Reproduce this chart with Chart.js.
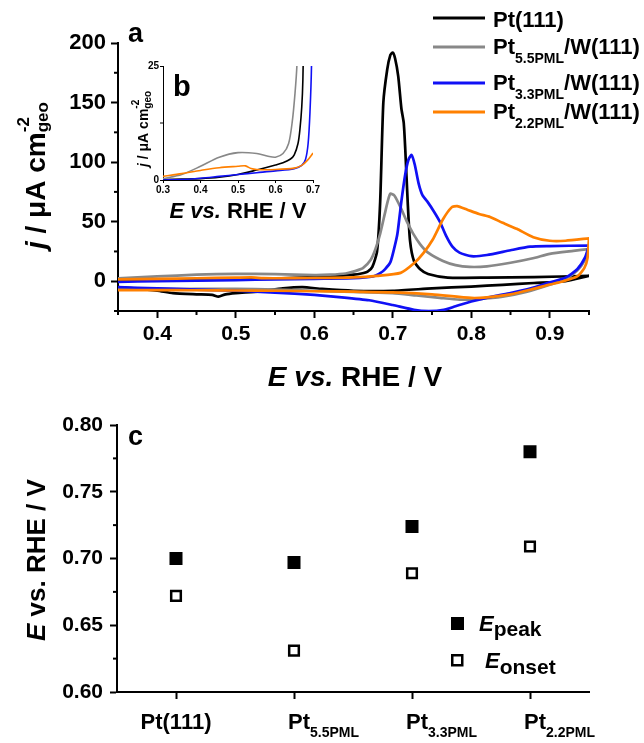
<!DOCTYPE html>
<html>
<head>
<meta charset="utf-8">
<script src="https://cdn.jsdelivr.net/npm/chart.js@4.4.1/dist/chart.umd.min.js"></script>
<style>
  html, body { margin: 0; padding: 0; background: #fff; }
  #wrap { position: relative; width: 644px; height: 743px; }
  canvas { position: absolute; }
</style>
</head>
<body>
<div id="wrap">
  <canvas id="cv" width="644" height="400" style="left:0;top:0;width:644px;height:400px"></canvas>
  <canvas id="inset" width="215" height="175" style="left:120px;top:55px;width:215px;height:175px"></canvas>
  <canvas id="shift" width="644" height="343" style="left:0;top:400px;width:644px;height:343px"></canvas>
</div>
<script>
const FAMILY = '"Liberation Sans", Arial, sans-serif';
const font = (size, style) => (style ? style + ' ' : '') + 'bold ' + size + 'px ' + FAMILY;

// ---- panel a: CVs (E vs RHE / V, j / uA cm-2), anodic sweep then cathodic sweep
const pt111AnodicE = [0.35, 0.40, 0.45, 0.50, 0.55, 0.60, 0.63, 0.65, 0.66, 0.668, 0.674, 0.68, 0.684, 0.688, 0.693, 0.697, 0.700, 0.703, 0.707, 0.711, 0.714, 0.716, 0.719, 0.722, 0.727, 0.735, 0.745, 0.77, 0.82, 0.88, 0.95];
const pt111AnodicJ = [0.5, 0.8, 1.2, 1.6, 2.2, 3.5, 4.5, 5.5, 6.5, 8, 12, 25, 67, 150, 178, 190, 192, 187, 172, 145, 133, 110, 67, 34, 17, 10, 6, 3, 3, 3.5, 4.5];
const pt111CathodicE = [0.95, 0.92, 0.88, 0.84, 0.80, 0.75, 0.70, 0.65, 0.61, 0.585, 0.56, 0.53, 0.50, 0.487, 0.478, 0.47, 0.45, 0.42, 0.40, 0.37, 0.35];
const pt111CathodicJ = [4.5, 0, -1.5, -3, -4.5, -6, -8, -8, -6.5, -5, -6, -8.5, -10, -11, -13, -11.5, -11, -10, -8, -6, -5];

const pt55AnodicE = [0.35, 0.40, 0.45, 0.50, 0.55, 0.60, 0.62, 0.64, 0.652, 0.662, 0.672, 0.678, 0.684, 0.69, 0.694, 0.697, 0.702, 0.71, 0.718, 0.726, 0.735, 0.745, 0.764, 0.78, 0.798, 0.82, 0.85, 0.88, 0.90, 0.93, 0.95];
const pt55AnodicJ = [2.5, 4, 5.5, 6.2, 6, 5.2, 5.5, 6.5, 8.5, 11, 18, 27, 40, 57, 68, 73.5, 72, 62, 50, 40, 31, 24, 17, 13.5, 12, 12.5, 15.5, 19.5, 23, 25.5, 27];
const pt55CathodicE = [0.95, 0.945, 0.935, 0.92, 0.90, 0.87, 0.84, 0.81, 0.785, 0.76, 0.73, 0.70, 0.65, 0.60, 0.55, 0.50, 0.45, 0.40, 0.35];
const pt55CathodicJ = [27, 18, 9, 2, -3, -9, -13, -15, -15.5, -14, -12, -10, -9, -8, -7, -6.5, -6.5, -6.5, -6];

const pt33AnodicE = [0.35, 0.40, 0.45, 0.50, 0.55, 0.60, 0.65, 0.675, 0.684, 0.69, 0.697, 0.702, 0.706, 0.711, 0.716, 0.72, 0.724, 0.728, 0.733, 0.738, 0.745, 0.752, 0.76, 0.768, 0.776, 0.785, 0.80, 0.82, 0.85, 0.875, 0.90, 0.95];
const pt33AnodicJ = [-0.5, 0, 0.5, 1, 1.5, 2, 2.5, 4, 6.8, 10, 16, 28, 40, 67, 90, 102, 106, 98, 82, 72, 66, 59, 50, 38, 29, 24, 21, 22, 26, 29, 29.5, 30];
const pt33CathodicE = [0.95, 0.945, 0.935, 0.92, 0.90, 0.876, 0.85, 0.83, 0.80, 0.78, 0.765, 0.746, 0.727, 0.70, 0.67, 0.635, 0.60, 0.55, 0.50, 0.45, 0.40, 0.35];
const pt33CathodicJ = [30, 20, 10, 3, -1, -6, -10, -12.5, -17, -21, -24, -25, -24, -20, -16, -13.5, -11.5, -9.5, -8, -7, -6, -5];

const pt22AnodicE = [0.35, 0.40, 0.45, 0.50, 0.52, 0.535, 0.55, 0.60, 0.65, 0.68, 0.71, 0.727, 0.739, 0.751, 0.764, 0.775, 0.782, 0.795, 0.81, 0.824, 0.84, 0.858, 0.879, 0.90, 0.92, 0.95];
const pt22AnodicJ = [1.5, 2, 2.5, 3, 3.2, 2.6, 2.5, 2.7, 3.2, 4.5, 7, 15, 23.6, 35, 52, 62, 63, 60, 56.5, 54, 49, 44, 37, 34, 34, 36];
const pt22CathodicE = [0.95, 0.948, 0.944, 0.935, 0.915, 0.90, 0.876, 0.85, 0.82, 0.80, 0.75, 0.70, 0.65, 0.60, 0.55, 0.50, 0.45, 0.40, 0.35];
const pt22CathodicJ = [36, 19, 11, 4, -0.5, -2.8, -7, -11, -13.5, -14, -11, -9.3, -8.8, -8.4, -8, -7.8, -7.6, -7.5, -7.5];

const xTicksA = [0.4, 0.5, 0.6, 0.7, 0.8, 0.9];
const xMinorA = [0.35, 0.45, 0.55, 0.65, 0.75, 0.85, 0.95];
const yTicksA = [0, 50, 100, 150, 200];
const yMinorA = [-25, 25, 75, 125, 175];

// ---- panel b: onset region of the anodic sweeps
const insetPt111E = [0.30, 0.35, 0.40, 0.45, 0.50, 0.55, 0.60, 0.62, 0.64, 0.65, 0.66, 0.665, 0.67, 0.673, 0.677];
const insetPt111J = [0.1, 0.2, 0.3, 0.6, 1.2, 2.2, 3.3, 3.8, 4.6, 5.5, 8, 11, 16, 22, 40];
const insetPt55E = [0.30, 0.35, 0.40, 0.45, 0.50, 0.55, 0.58, 0.60, 0.62, 0.635, 0.645, 0.652, 0.657, 0.66];
const insetPt55J = [0.3, 1.2, 3.0, 5.0, 6.0, 5.8, 5.2, 5.0, 5.8, 8, 13, 19, 25, 35];
const insetPt33E = [0.30, 0.35, 0.40, 0.45, 0.50, 0.55, 0.60, 0.65, 0.67, 0.68, 0.687, 0.692, 0.696, 0.698];
const insetPt33J = [0, 0.1, 0.4, 0.8, 1.2, 1.6, 2.0, 2.5, 3.2, 4.5, 8, 15, 25, 40];
const insetPt22E = [0.30, 0.35, 0.40, 0.45, 0.50, 0.52, 0.535, 0.55, 0.60, 0.65, 0.67, 0.685, 0.70];
const insetPt22J = [0.8, 1.4, 2.1, 2.7, 3.0, 3.1, 2.5, 2.3, 2.3, 2.6, 3.2, 4.3, 5.9];
const xTicksB = [0.3, 0.4, 0.5, 0.6, 0.7];
const yTicksB = [0, 25];
const yMinorB = [12.5];

// ---- panel c: peak and onset potentials
const samples = ['Pt(111)', 'Pt5.5PML', 'Pt3.3PML', 'Pt2.2PML'];
const sampleBase = ['Pt(111)', 'Pt', 'Pt', 'Pt'];
const sampleSub = ['', '5.5PML', '3.3PML', '2.2PML'];
const ePeak = [0.700, 0.697, 0.724, 0.780];
const eOnset = [0.672, 0.631, 0.689, 0.709];
const yTicksC = [0.60, 0.65, 0.70, 0.75, 0.80];
const yMinorC = [0.625, 0.675, 0.725, 0.775];

const legendSub = ['', '5.5PML', '3.3PML', '2.2PML'];
const colors = ['#000000', '#888888', '#1010f5', '#ff8000'];

const zip = (xs, ys) => xs.map((x, i) => ({ x: x, y: ys[i] }));

// text runs with sub/superscripts; a part with stack:true does not advance
function drawRun(ctx, x, y, parts, measureOnly) {
  let cx = x;
  parts.forEach(p => {
    ctx.font = p.f;
    if (!measureOnly) ctx.fillText(p.t, cx, y + (p.dy || 0));
    const pw = ctx.measureText(p.t).width;
    if (!p.stack) cx += pw;
  });
  return cx - x;
}
function drawRunCentered(ctx, x, y, parts) {
  const w = drawRun(ctx, 0, 0, parts, true);
  drawRun(ctx, x - w / 2, y, parts);
}
function drawRotated(ctx, x, y, parts) {
  ctx.save();
  ctx.translate(x, y);
  ctx.rotate(-Math.PI / 2);
  drawRun(ctx, 0, 0, parts);
  ctx.restore();
}
function minorTicks(chart, axis, values, len, width) {
  const ctx = chart.ctx;
  const s = chart.scales[axis];
  const area = chart.chartArea;
  ctx.save();
  ctx.strokeStyle = '#000';
  ctx.lineWidth = width;
  values.forEach(v => {
    const p = s.getPixelForValue(v);
    ctx.beginPath();
    if (axis === 'x') {
      ctx.moveTo(p, area.bottom);
      ctx.lineTo(p, area.bottom + len);
    } else {
      ctx.moveTo(area.left - len, p);
      ctx.lineTo(area.left, p);
    }
    ctx.stroke();
  });
  ctx.restore();
}

function axisOpts(size, tickLen, tickW, pad, cb) {
  return {
    ticks: { callback: cb, font: { family: FAMILY, size: size, weight: 'bold' }, color: '#000', padding: pad, maxRotation: 0, autoSkip: false },
    grid: { drawOnChartArea: false, tickLength: tickLen, tickWidth: tickW, tickColor: '#000' },
    border: { color: '#000', width: tickW }
  };
}

const panelA = {
  id: 'panelA',
  afterDraw(chart) {
    const ctx = chart.ctx;
    minorTicks(chart, 'x', xMinorA, 4, 2);
    minorTicks(chart, 'y', yMinorA, 4, 2);
    ctx.save();
    ctx.fillStyle = '#000';
    ctx.textBaseline = 'alphabetic';
    ctx.textAlign = 'left';
    ctx.font = font(27);
    ctx.fillText('a', 128, 42);
    drawRotated(ctx, 45, 249, [
      { t: 'j', f: font(28, 'italic') },
      { t: ' / \u03bcA cm', f: font(28) },
      { t: '-2', f: font(17), dy: -16, stack: true },
      { t: 'geo', f: font(17), dy: 3 }
    ]);
    drawRunCentered(ctx, 355, 386, [
      { t: 'E vs.', f: font(28, 'italic') },
      { t: ' RHE / V', f: font(28) }
    ]);
    const lineY = [18, 47, 83, 112];
    const baseY = [27, 54, 90, 119];
    colors.forEach((c, i) => {
      ctx.strokeStyle = c;
      ctx.lineWidth = 3;
      ctx.beginPath();
      ctx.moveTo(433, lineY[i]);
      ctx.lineTo(485, lineY[i]);
      ctx.stroke();
      const parts = legendSub[i] === ''
        ? [{ t: 'Pt(111)', f: font(22) }]
        : [{ t: 'Pt', f: font(22) }, { t: legendSub[i], f: font(14), dy: 9 }, { t: '/W(111)', f: font(22) }];
      drawRun(ctx, 493, baseY[i], parts);
    });
    ctx.restore();
  }
};

const cvSets = [
  [pt111AnodicE, pt111AnodicJ, pt111CathodicE, pt111CathodicJ],
  [pt55AnodicE, pt55AnodicJ, pt55CathodicE, pt55CathodicJ],
  [pt33AnodicE, pt33AnodicJ, pt33CathodicE, pt33CathodicJ],
  [pt22AnodicE, pt22AnodicJ, pt22CathodicE, pt22CathodicJ]
];

new Chart(document.getElementById('cv'), {
  type: 'scatter',
  data: {
    datasets: cvSets.map((s, i) => ({
      data: zip(s[0], s[1]).concat(zip(s[2], s[3])),
      borderColor: colors[i],
      showLine: true,
      order: 3 - i
    }))
  },
  options: {
    responsive: false,
    animation: false,
    devicePixelRatio: 1,
    layout: { padding: { top: 43, right: 55, left: 0, bottom: 0 } },
    plugins: { legend: { display: false }, tooltip: { enabled: false } },
    elements: { point: { radius: 0 }, line: { borderWidth: 2.7, tension: 0.2 } },
    scales: {
      x: Object.assign(axisOpts(21, 7, 2, 4, v => v.toFixed(1)), {
        type: 'linear', min: 0.35, max: 0.95,
        afterBuildTicks: s => { s.ticks = xTicksA.map(v => ({ value: v })); },
        afterFit: s => { s.height = 89; }
      }),
      y: Object.assign(axisOpts(22, 7, 2, 5, v => String(v)), {
        type: 'linear', min: -25, max: 200,
        afterBuildTicks: s => { s.ticks = yTicksA.map(v => ({ value: v })); },
        afterFit: s => { s.width = 118; }
      })
    }
  },
  plugins: [panelA]
});

const panelB = {
  id: 'panelB',
  afterDraw(chart) {
    const ctx = chart.ctx;
    minorTicks(chart, 'y', yMinorB, 3, 1);
    ctx.save();
    ctx.fillStyle = '#000';
    ctx.font = font(29);
    ctx.fillText('b', 53, 41);
    drawRotated(ctx, 28, 112, [
      { t: 'j', f: font(14, 'italic') },
      { t: ' / \u03bcA cm', f: font(14) },
      { t: '-2', f: font(10), dy: -9, stack: true },
      { t: 'geo', f: font(10), dy: 3 }
    ]);
    drawRunCentered(ctx, 118, 163, [
      { t: 'E vs.', f: font(22, 'italic') },
      { t: ' RHE / V', f: font(22) }
    ]);
    ctx.restore();
  }
};

const insetSets = [
  [insetPt111E, insetPt111J],
  [insetPt55E, insetPt55J],
  [insetPt33E, insetPt33J],
  [insetPt22E, insetPt22J]
];

new Chart(document.getElementById('inset'), {
  type: 'scatter',
  data: {
    datasets: insetSets.map((s, i) => ({
      data: zip(s[0], s[1]),
      borderColor: colors[i],
      showLine: true,
      order: 3 - i
    }))
  },
  options: {
    responsive: false,
    animation: false,
    devicePixelRatio: 1,
    layout: { padding: { top: 11, right: 22, left: 0, bottom: 0 } },
    plugins: { legend: { display: false }, tooltip: { enabled: false } },
    elements: { point: { radius: 0 }, line: { borderWidth: 1.6, tension: 0.3 } },
    scales: {
      x: Object.assign(axisOpts(10, 3, 1, 1, v => v.toFixed(1)), {
        type: 'linear', min: 0.3, max: 0.7,
        afterBuildTicks: s => { s.ticks = xTicksB.map(v => ({ value: v })); },
        afterFit: s => { s.height = 50; }
      }),
      y: Object.assign(axisOpts(10, 3, 1, 1, v => String(v)), {
        type: 'linear', min: 0, max: 25,
        afterBuildTicks: s => { s.ticks = yTicksB.map(v => ({ value: v })); },
        afterFit: s => { s.width = 43; }
      })
    }
  },
  plugins: [panelB]
});

const panelC = {
  id: 'panelC',
  afterDraw(chart) {
    const ctx = chart.ctx;
    const xs = chart.scales.x;
    minorTicks(chart, 'y', yMinorC, 4, 2);
    ctx.save();
    ctx.fillStyle = '#000';
    ctx.font = font(27);
    ctx.fillText('c', 128, 45);
    drawRotated(ctx, 45, 241, [
      { t: 'E', f: font(26, 'italic') },
      { t: ' vs. RHE / V', f: font(26) }
    ]);
    samples.forEach((s, i) => {
      const px = xs.getPixelForValue(i);
      if (sampleSub[i] === '') {
        drawRunCentered(ctx, px, 329, [{ t: sampleBase[i], f: font(22) }]);
      } else {
        drawRun(ctx, px - 6, 329, [{ t: sampleBase[i], f: font(22) }, { t: sampleSub[i], f: font(14), dy: 8 }]);
      }
    });
    // legend
    ctx.fillRect(451, 217, 13, 13);
    ctx.strokeStyle = '#000';
    ctx.lineWidth = 2.5;
    ctx.strokeRect(452.25, 255.25, 10, 10);
    drawRun(ctx, 479, 231, [{ t: 'E', f: font(22, 'italic') }, { t: 'peak', f: font(21), dy: 5 }]);
    drawRun(ctx, 485, 268, [{ t: 'E', f: font(22, 'italic') }, { t: 'onset', f: font(21), dy: 6 }]);
    ctx.restore();
  }
};

new Chart(document.getElementById('shift'), {
  type: 'line',
  data: {
    labels: samples,
    datasets: [
      { data: ePeak, showLine: false, pointStyle: 'rect', pointRadius: 9.2, backgroundColor: '#000', borderColor: '#000', borderWidth: 0 },
      { data: eOnset, showLine: false, pointStyle: 'rect', pointRadius: 6.8, backgroundColor: '#fff', borderColor: '#000', borderWidth: 2.5 }
    ]
  },
  options: {
    responsive: false,
    animation: false,
    devicePixelRatio: 1,
    layout: { padding: { top: 25, right: 55, left: 0, bottom: 0 } },
    plugins: { legend: { display: false }, tooltip: { enabled: false } },
    scales: {
      x: Object.assign(axisOpts(20, 7, 2, 4, () => ''), {
        type: 'category', offset: true,
        afterFit: s => { s.height = 51; }
      }),
      y: Object.assign(axisOpts(21, 7, 2, 7, v => v.toFixed(2)), {
        type: 'linear', min: 0.6, max: 0.8,
        afterBuildTicks: s => { s.ticks = yTicksC.map(v => ({ value: v })); },
        afterFit: s => { s.width = 117; }
      })
    }
  },
  plugins: [panelC]
});
</script>
</body>
</html>
